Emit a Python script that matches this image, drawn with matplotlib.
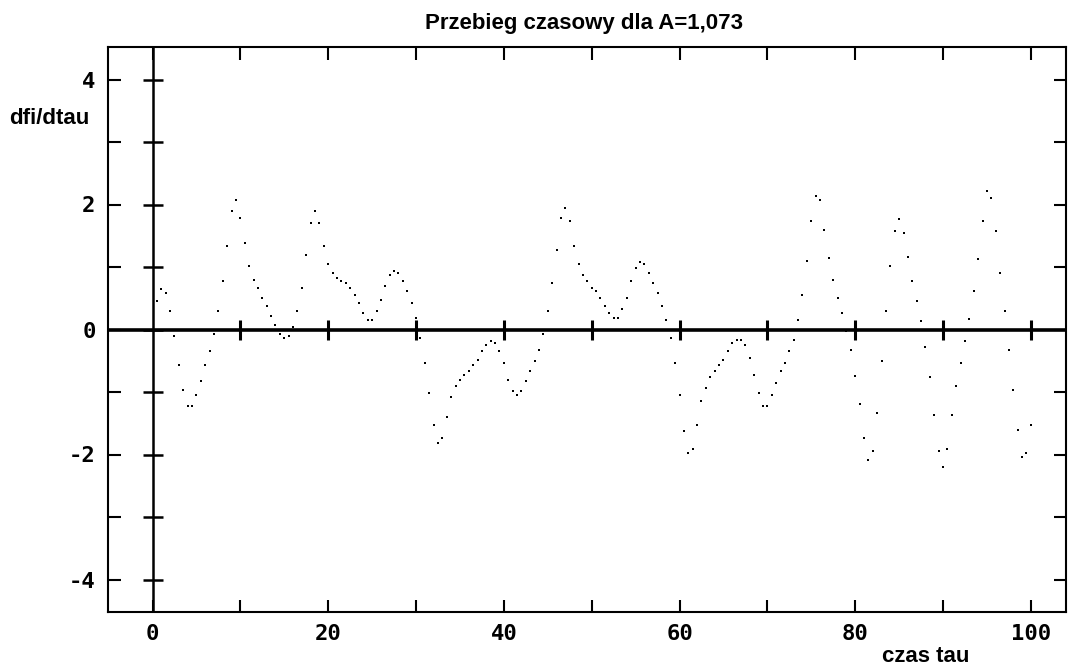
import matplotlib
matplotlib.use("Agg")
import matplotlib.pyplot as plt
import numpy as np

################################################################################
# Data read off the reference picture: dfi/dtau sampled every 0.5 of tau.     #
################################################################################
tau = np.arange(0.5, 100.01, 0.5)

dfi = [
    0.45, 0.65, 0.58, 0.29, -0.10, -0.57, -0.96, -1.22, -1.22, -1.05,    # 0.5 - 5.0
    -0.83, -0.57, -0.35, -0.07, 0.29, 0.77, 1.34, 1.89, 2.08, 1.79,      # 5.5 - 10.0
    1.38, 1.02, 0.80, 0.67, 0.51, 0.38, 0.22, 0.07, -0.07, -0.13,        # 10.5 - 15.0
    -0.10, 0.04, 0.29, 0.67, 1.19, 1.70, 1.89, 1.70, 1.34, 1.05,         # 15.5 - 20.0
    0.90, 0.83, 0.77, 0.74, 0.67, 0.55, 0.42, 0.26, 0.16, 0.16,          # 20.5 - 25.0
    0.29, 0.48, 0.70, 0.87, 0.93, 0.90, 0.77, 0.61, 0.42, 0.19,          # 25.5 - 30.0
    -0.13, -0.53, -1.02, -1.53, -1.82, -1.73, -1.40, -1.08, -0.90, -0.80,  # 30.5 - 35.0
    -0.73, -0.67, -0.57, -0.48, -0.35, -0.25, -0.19, -0.22, -0.35, -0.53,  # 35.5 - 40.0
    -0.80, -0.99, -1.05, -0.99, -0.83, -0.67, -0.51, -0.32, -0.07, 0.29,   # 40.5 - 45.0
    0.74, 1.28, 1.79, 1.95, 1.73, 1.34, 1.05, 0.87, 0.77, 0.67,          # 45.5 - 50.0
    0.61, 0.51, 0.38, 0.26, 0.19, 0.19, 0.33, 0.51, 0.77, 0.99,          # 50.5 - 55.0
    1.08, 1.05, 0.90, 0.74, 0.58, 0.38, 0.16, -0.13, -0.53, -1.05,       # 55.5 - 60.0
    -1.63, -1.97, -1.91, -1.53, -1.15, -0.93, -0.76, -0.67, -0.57, -0.48,  # 60.5 - 65.0
    -0.35, -0.22, -0.16, -0.16, -0.25, -0.45, -0.73, -1.02, -1.22, -1.22,  # 65.5 - 70.0
    -1.05, -0.86, -0.67, -0.53, -0.35, -0.16, 0.16, 0.55, 1.09, 1.73,     # 70.5 - 75.0
    2.14, 2.08, 1.60, 1.15, 0.80, 0.51, 0.26, -0.03, -0.33, -0.74,       # 75.5 - 80.0
    -1.19, -1.73, -2.08, -1.94, -1.34, -0.51, 0.29, 1.02, 1.57, 1.77,    # 80.5 - 85.0
    1.54, 1.16, 0.77, 0.45, 0.13, -0.28, -0.76, -1.37, -1.94, -2.20,     # 85.5 - 90.0
    -1.91, -1.37, -0.90, -0.54, -0.19, 0.17, 0.61, 1.13, 1.73, 2.21,     # 90.5 - 95.0
    2.11, 1.57, 0.90, 0.29, -0.32, -0.96, -1.60, -2.04, -1.98, -1.53,    # 95.5 - 100.0
]

x_ticks = np.arange(0, 101, 10)
x_labels = ["0", "", "20", "", "40", "", "60", "", "80", "", "100"]
y_ticks = np.arange(-4, 5, 1)
y_labels = ["-4", "", "-2", "", "0", "", "2", "", "4"]

title = "Przebieg czasowy dla A=1,073"

################################################################################
# Plot                                                                         #
################################################################################
W, H = 1069, 668
fig = plt.figure(figsize=(W / 100.0, H / 100.0), dpi=100)
ax = fig.add_axes([108.0 / W, (H - 612.0) / H, (1066.0 - 108.0) / W, (612.0 - 47.0) / H])

ax.set_xlim(-5.07, 104.0)
ax.set_ylim(-4.52, 4.52)

# the crossing axes through the origin
ax.axhline(0, color="black", lw=2.6, zorder=2)
ax.axvline(0, color="black", lw=1.8, zorder=2)
ax.plot(x_ticks[1:], np.zeros(len(x_ticks) - 1), "|", color="black", ms=14, mew=2.2, zorder=2)
ax.plot(np.zeros(len(y_ticks)), y_ticks, "_", color="black", ms=14, mew=1.8, zorder=2)

# the samples
ax.plot(tau, dfi, "s", color="black", ms=1.9, mew=0, zorder=3)

for s in ax.spines.values():
    s.set_linewidth(1.5)

ax.set_xticks(x_ticks)
ax.set_xticklabels(x_labels)
ax.set_yticks(y_ticks)
ax.set_yticklabels(y_labels)
ax.tick_params(direction="in", length=9, width=1.5, top=True, right=True, pad=9)
for lab in ax.get_xticklabels() + ax.get_yticklabels():
    lab.set_family("DejaVu Sans Mono")
    lab.set_fontweight("bold")
    lab.set_fontsize(16)

fig.text(584.0 / W, 1 - 23.0 / H, title, ha="center", va="center",
         fontsize=16, fontweight="bold", family="Liberation Sans")
fig.text(9.0 / W, 1 - 118.0 / H, "dfi/dtau", ha="left", va="center",
         fontsize=16, fontweight="bold", family="Liberation Sans")
fig.text(882.0 / W, 1 - 657.0 / H, "czas tau", ha="left", va="center",
         fontsize=16, fontweight="bold", family="Liberation Sans")

plt.savefig("out.png", dpi=100)
